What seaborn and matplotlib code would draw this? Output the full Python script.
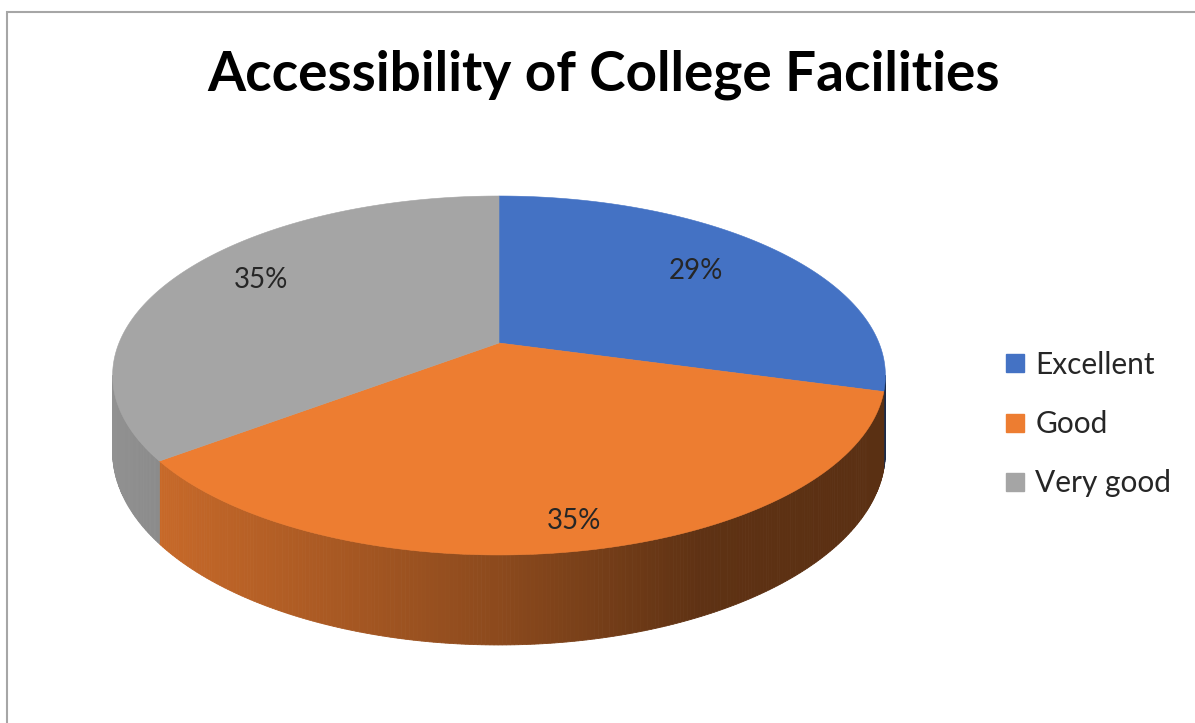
import numpy as np
import matplotlib
matplotlib.use("Agg")
import matplotlib.pyplot as plt
from matplotlib.lines import Line2D
import seaborn as sns

# Survey results
categories = ["Excellent", "Good", "Very good"]
shares = [29, 35, 35]
colors = ["#4472C4", "#ED7D31", "#A5A5A5"]
title = "Accessibility of College Facilities"

sns.set_theme(style="white")
plt.rcParams["font.family"] = ["Lato", "DejaVu Sans"]
palette = sns.color_palette(colors)

W, H = 1195, 723
fig = plt.figure(figsize=(W / 100, H / 100), dpi=100)
ax = fig.add_axes([0, 0, 1, 1])
ax.set_xlim(0, W)
ax.set_ylim(H, 0)
ax.axis("off")

# Perspective view of a tilted disc (angles clockwise from the far side)
CX, CY = 499.0, 343.0
RX, RY = 380.0, 173.6
K = 0.181
DEPTH = 73.7


def project(theta_deg, r=1.0, drop=0.0):
    t = np.radians(theta_deg)
    u = r * np.sin(t)
    v = r * np.cos(t)
    s = 1.0 / (1.0 + K * v)
    return CX + RX * u * s, CY - RY * v * s + drop * s


def side_shade(x):
    return np.interp(x, [112, 160, 500, 700, 886], [0.88, 0.84, 0.59, 0.40, 0.38])


total = float(sum(shares))
bounds = np.concatenate([[0.0], np.cumsum(shares) / total * 360.0])

vis_lo = np.degrees(np.arccos(-K))
vis_hi = 360.0 - vis_lo

# Outer walls of the slices
for i, col in enumerate(palette):
    a0, a1 = max(bounds[i], vis_lo), min(bounds[i + 1], vis_hi)
    if a1 <= a0:
        continue
    n = max(2, int((a1 - a0) / 0.5))
    th = np.linspace(a0, a1, n + 1)
    for t0, t1 in zip(th[:-1], th[1:]):
        x0, y0 = project(t0)
        x1, y1 = project(t1)
        x2, y2 = project(t1, drop=DEPTH)
        x3, y3 = project(t0, drop=DEPTH)
        f = side_shade(0.5 * (x0 + x1))
        c = tuple(np.clip(np.array(col) * f, 0, 1))
        ax.fill([x0, x1, x2, x3], [y0, y1, y2, y3], color=c, lw=0.6, ec=c)

# Top faces
for i, col in enumerate(palette):
    th = np.linspace(bounds[i], bounds[i + 1], 200)
    xs, ys = project(th)
    xs = np.concatenate([[CX], xs])
    ys = np.concatenate([[CY], ys])
    ax.fill(xs, ys, color=col, lw=0.4, ec=col)

# Percentage labels
label_r = [0.70, 0.88, 0.74]
label_dy = [-4, 0, -9]
for i, val in enumerate(shares):
    mid = 0.5 * (bounds[i] + bounds[i + 1])
    lx, ly = project(mid, r=label_r[i])
    ax.text(lx, ly + label_dy[i], f"{val}%", ha="center", va="center", fontsize=20, color="#262626")

ax.text(604, 75, title, ha="center", va="center", fontsize=39.5, fontweight="bold", color="black")

# Chart frame
ax.plot([7, 7, W + 5], [H + 5, 12, 12], color="#a6a6a6", lw=1.5, solid_joinstyle="miter")

handles = [Line2D([], [], marker="s", ls="", ms=13, mfc=c, mec=c) for c in palette]
fig.legend(handles, categories, loc="center left", bbox_to_anchor=(989 / W, 1 - 424 / H),
           frameon=False, fontsize=21.5, handlelength=0.75, handletextpad=0.3,
           labelspacing=1.05, borderpad=0, labelcolor="#262626")

fig.savefig("out.png", dpi=100)
